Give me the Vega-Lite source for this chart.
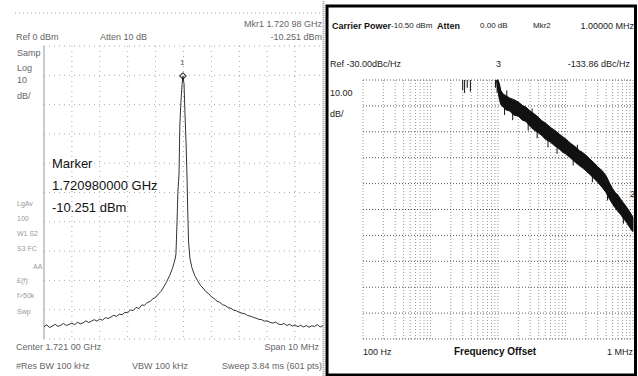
{
 "$schema": "https://vega.github.io/schema/vega-lite/v6.json",
 "padding": 0,
 "spacing": 0,
 "bounds": "flush",
 "background": "white",
 "config": {"view": {"stroke": null}, "text": {"font": "Liberation Sans, Arial, sans-serif"}},
 "hconcat": [
  {
   "width": 325, "height": 376,
   "encoding": {
    "x": {"field": "f", "type": "quantitative", "scale": {"domain": [1714.423, 1726.072], "nice": false, "zero": false}, "axis": null},
    "y": {"field": "v", "type": "quantitative", "scale": {"domain": [-112.97, 15.36], "nice": false, "zero": false}, "axis": null}
   },
   "layer": [
    {
     "data": {"values": [{"f":1717,"v":0,"v2":-100},{"f":1718,"v":0,"v2":-100},{"f":1719,"v":0,"v2":-100},{"f":1720,"v":0,"v2":-100},{"f":1721,"v":0,"v2":-100},{"f":1722,"v":0,"v2":-100},{"f":1723,"v":0,"v2":-100},{"f":1724,"v":0,"v2":-100},{"f":1725,"v":0,"v2":-100}]},
     "mark": {"type": "rule", "stroke": "#aaa", "strokeDash": [1, 4], "strokeWidth": 1},
     "encoding": {"y2": {"field": "v2"}}
    },
    {
     "data": {"values": [{"f":1716,"f2":1726,"v":0},{"f":1716,"f2":1726,"v":-10},{"f":1716,"f2":1726,"v":-20},{"f":1716,"f2":1726,"v":-30},{"f":1716,"f2":1726,"v":-40},{"f":1716,"f2":1726,"v":-50},{"f":1716,"f2":1726,"v":-60},{"f":1716,"f2":1726,"v":-70},{"f":1716,"f2":1726,"v":-80},{"f":1716,"f2":1726,"v":-90},{"f":1716,"f2":1726,"v":-100}]},
     "mark": {"type": "rule", "stroke": "#aaa", "strokeDash": [1, 4], "strokeWidth": 1},
     "encoding": {"x2": {"field": "f2"}}
    },
    {
     "data": {"values": [{"f":1714.96,"f2":1725.96,"v":11.26}]},
     "mark": {"type": "rule", "stroke": "#aaa", "strokeDash": [1, 3], "strokeWidth": 1},
     "encoding": {"x2": {"field": "f2"}}
    },
    {
     "data": {"values": [{"f":1716,"v":0,"v2":-100}]},
     "mark": {"type": "rule", "stroke": "#999", "strokeWidth": 1},
     "encoding": {"y2": {"field": "v2"}}
    },
    {
     "data": {"values": [{"f":1726.018,"v":15.3,"v2":-112.9}]},
     "mark": {"type": "rule", "stroke": "#999", "strokeDash": [1, 1], "strokeWidth": 2},
     "encoding": {"y2": {"field": "v2"}}
    },
    {
     "data": {"values": [
      {"f":1716.0,"v":-95.8},{"f":1716.1,"v":-95.2},{"f":1716.2,"v":-96.1},{"f":1716.3,"v":-95.6},{"f":1716.4,"v":-95.0},{"f":1716.5,"v":-95.7},{"f":1716.6,"v":-95.3},{"f":1716.7,"v":-94.7},{"f":1716.8,"v":-95.4},{"f":1716.9,"v":-95.0},
      {"f":1717.0,"v":-94.6},{"f":1717.1,"v":-95.1},{"f":1717.2,"v":-94.3},{"f":1717.3,"v":-94.8},{"f":1717.4,"v":-94.5},{"f":1717.5,"v":-93.8},{"f":1717.6,"v":-94.4},{"f":1717.7,"v":-93.9},{"f":1717.8,"v":-93.4},{"f":1717.9,"v":-93.9},
      {"f":1718.0,"v":-93.2},{"f":1718.1,"v":-93.6},{"f":1718.2,"v":-92.7},{"f":1718.3,"v":-93.0},{"f":1718.4,"v":-92.5},{"f":1718.5,"v":-91.9},{"f":1718.6,"v":-92.3},{"f":1718.7,"v":-91.5},{"f":1718.8,"v":-91.7},{"f":1718.9,"v":-90.9},
      {"f":1719.0,"v":-91.0},{"f":1719.1,"v":-90.1},{"f":1719.2,"v":-90.3},{"f":1719.3,"v":-89.2},{"f":1719.4,"v":-89.6},{"f":1719.5,"v":-88.4},{"f":1719.6,"v":-88.5},{"f":1719.7,"v":-87.6},{"f":1719.8,"v":-87.2},{"f":1719.9,"v":-86.3},
      {"f":1720.0,"v":-85.8},{"f":1720.1,"v":-84.6},{"f":1720.2,"v":-83.7},{"f":1720.3,"v":-82.1},{"f":1720.4,"v":-80.4},{"f":1720.5,"v":-78.4},{"f":1720.55,"v":-77.2},{"f":1720.6,"v":-76.0},{"f":1720.65,"v":-74.4},{"f":1720.7,"v":-72.7},
      {"f":1720.73,"v":-71.0},{"f":1720.77,"v":-59.7},{"f":1720.8,"v":-49.5},{"f":1720.84,"v":-43.7},{"f":1720.87,"v":-26.6},{"f":1720.91,"v":-18.8},{"f":1720.95,"v":-13.0},{"f":1720.98,"v":-10.25},
      {"f":1721.02,"v":-13.0},{"f":1721.05,"v":-22.2},{"f":1721.09,"v":-32.4},{"f":1721.13,"v":-46.1},{"f":1721.15,"v":-55.3},{"f":1721.18,"v":-66.6},{"f":1721.23,"v":-72.4},
      {"f":1721.3,"v":-75.6},{"f":1721.4,"v":-78.3},{"f":1721.5,"v":-80.0},{"f":1721.6,"v":-81.6},{"f":1721.7,"v":-82.6},{"f":1721.8,"v":-83.8},{"f":1721.9,"v":-84.5},{"f":1722.0,"v":-85.6},
      {"f":1722.1,"v":-86.2},{"f":1722.2,"v":-87.1},{"f":1722.3,"v":-87.5},{"f":1722.4,"v":-88.3},{"f":1722.5,"v":-88.6},{"f":1722.6,"v":-89.3},{"f":1722.7,"v":-89.5},{"f":1722.8,"v":-90.2},{"f":1722.9,"v":-90.4},
      {"f":1723.0,"v":-90.9},{"f":1723.1,"v":-91.2},{"f":1723.2,"v":-91.4},{"f":1723.3,"v":-92.0},{"f":1723.4,"v":-92.2},{"f":1723.5,"v":-92.6},{"f":1723.6,"v":-92.9},{"f":1723.7,"v":-93.3},{"f":1723.8,"v":-93.4},{"f":1723.9,"v":-93.9},
      {"f":1724.0,"v":-93.8},{"f":1724.1,"v":-94.3},{"f":1724.2,"v":-94.6},{"f":1724.3,"v":-94.2},{"f":1724.4,"v":-94.9},{"f":1724.5,"v":-95.1},{"f":1724.6,"v":-94.7},{"f":1724.7,"v":-95.4},{"f":1724.8,"v":-95.0},{"f":1724.9,"v":-95.6},
      {"f":1725.0,"v":-95.2},{"f":1725.1,"v":-95.8},{"f":1725.2,"v":-95.3},{"f":1725.3,"v":-95.9},{"f":1725.4,"v":-95.4},{"f":1725.5,"v":-96.0},{"f":1725.6,"v":-95.5},{"f":1725.7,"v":-95.7},{"f":1725.8,"v":-95.1},{"f":1725.9,"v":-95.9},{"f":1726.0,"v":-95.4}
     ]},
     "mark": {"type": "line", "stroke": "#333", "strokeWidth": 1},
     "encoding": {}
    },
    {
     "data": {"values": [{"f":1720.98,"v":-10.25}]},
     "mark": {"type": "point", "shape": "diamond", "filled": false, "stroke": "black", "strokeWidth": 1.2, "size": 40},
     "encoding": {}
    },
    {
     "data": {"values": [{"f":1720.95,"v":-5.8,"t":"1"}]},
     "mark": {"type": "text", "align": "center", "baseline": "middle", "fontSize": 8, "fill": "#555"},
     "encoding": {"text": {"field": "t"}}
    },
    {
     "data": {"values": [
      {"f":1715.0,"v":3.07,"t":"Ref 0 dBm"},
      {"f":1718.007,"v":3.07,"t":"Atten 10 dB"},
      {"f":1715.03,"v":-2.39,"t":"Samp"},
      {"f":1715.03,"v":-7.51,"t":"Log"},
      {"f":1715.03,"v":-11.6,"t":"10"},
      {"f":1715.03,"v":-17.06,"t":"dB/"},
      {"f":1715.0,"v":-102.7,"t":"Center 1.721 00 GHz"},
      {"f":1715.0,"v":-109.2,"t":"#Res BW 100 kHz"},
      {"f":1719.154,"v":-109.2,"t":"VBW 100 kHz"}
     ]},
     "mark": {"type": "text", "align": "left", "baseline": "middle", "fontSize": 9, "fill": "#666"},
     "encoding": {"text": {"field": "t"}}
    },
    {
     "data": {"values": [
      {"f":1725.964,"v":7.51,"t":"Mkr1  1.720 98 GHz"},
      {"f":1725.964,"v":3.07,"t":"-10.251 dBm"},
      {"f":1725.857,"v":-102.7,"t":"Span 10 MHz"},
      {"f":1725.964,"v":-109.2,"t":"Sweep 3.84 ms (601 pts)"}
     ]},
     "mark": {"type": "text", "align": "right", "baseline": "middle", "fontSize": 9, "fill": "#666"},
     "encoding": {"text": {"field": "t"}}
    },
    {
     "data": {"values": [
      {"f":1715.032,"v":-53.92,"t":"LgAv"},
      {"f":1715.032,"v":-59.04,"t":"100"},
      {"f":1715.032,"v":-64.16,"t":"W1  S2"},
      {"f":1715.032,"v":-69.28,"t":"S3  FC"},
      {"f":1715.606,"v":-75.43,"t":"AA"},
      {"f":1715.032,"v":-80.2,"t":"£(f):"},
      {"f":1715.032,"v":-85.32,"t":"f>50k"},
      {"f":1715.032,"v":-90.78,"t":"Swp"}
     ]},
     "mark": {"type": "text", "align": "left", "baseline": "middle", "fontSize": 7, "fill": "#999"},
     "encoding": {"text": {"field": "t"}}
    },
    {
     "data": {"values": [
      {"f":1716.287,"v":-40.27,"t":"Marker"},
      {"f":1716.287,"v":-47.78,"t":"1.720980000 GHz"},
      {"f":1716.287,"v":-55.29,"t":"-10.251 dBm"}
     ]},
     "mark": {"type": "text", "align": "left", "baseline": "middle", "fontSize": 13, "fill": "#111"},
     "encoding": {"text": {"field": "t"}}
    }
   ]
  },
  {
   "width": 313, "height": 376,
   "encoding": {
    "x": {"field": "f", "type": "quantitative", "scale": {"type": "log", "domain": [27.35, 1186000], "nice": false}, "axis": null},
    "y": {"field": "v", "type": "quantitative", "scale": {"domain": [-144.67, 0.502], "nice": false, "zero": false}, "axis": null}
   },
   "layer": [
    {
     "data": {"values": [
      {"f":100,"v":-30,"v2":-130},{"f":200,"v":-30,"v2":-130},{"f":300,"v":-30,"v2":-130},{"f":400,"v":-30,"v2":-130},{"f":500,"v":-30,"v2":-130},{"f":600,"v":-30,"v2":-130},{"f":700,"v":-30,"v2":-130},{"f":800,"v":-30,"v2":-130},{"f":900,"v":-30,"v2":-130},
      {"f":1000,"v":-30,"v2":-130},{"f":2000,"v":-30,"v2":-130},{"f":3000,"v":-30,"v2":-130},{"f":4000,"v":-30,"v2":-130},{"f":5000,"v":-30,"v2":-130},{"f":6000,"v":-30,"v2":-130},{"f":7000,"v":-30,"v2":-130},{"f":8000,"v":-30,"v2":-130},{"f":9000,"v":-30,"v2":-130},
      {"f":10000,"v":-30,"v2":-130},{"f":20000,"v":-30,"v2":-130},{"f":30000,"v":-30,"v2":-130},{"f":40000,"v":-30,"v2":-130},{"f":50000,"v":-30,"v2":-130},{"f":60000,"v":-30,"v2":-130},{"f":70000,"v":-30,"v2":-130},{"f":80000,"v":-30,"v2":-130},{"f":90000,"v":-30,"v2":-130},
      {"f":100000,"v":-30,"v2":-130},{"f":200000,"v":-30,"v2":-130},{"f":300000,"v":-30,"v2":-130},{"f":400000,"v":-30,"v2":-130},{"f":500000,"v":-30,"v2":-130},{"f":600000,"v":-30,"v2":-130},{"f":700000,"v":-30,"v2":-130},{"f":800000,"v":-30,"v2":-130},{"f":900000,"v":-30,"v2":-130},
      {"f":1000000,"v":-30,"v2":-130}
     ]},
     "mark": {"type": "rule", "stroke": "#999", "strokeDash": [1, 2], "strokeWidth": 1},
     "encoding": {"y2": {"field": "v2"}}
    },
    {
     "data": {"values": [
      {"f":100,"f2":1000000,"v":-30},{"f":100,"f2":1000000,"v":-40},{"f":100,"f2":1000000,"v":-50},{"f":100,"f2":1000000,"v":-60},{"f":100,"f2":1000000,"v":-70},{"f":100,"f2":1000000,"v":-80},
      {"f":100,"f2":1000000,"v":-90},{"f":100,"f2":1000000,"v":-100},{"f":100,"f2":1000000,"v":-110},{"f":100,"f2":1000000,"v":-120},{"f":100,"f2":1000000,"v":-130}
     ]},
     "mark": {"type": "rule", "stroke": "#555", "strokeDash": [1, 2], "strokeWidth": 1},
     "encoding": {"x2": {"field": "f2"}}
    },
    {
     "data": {"values": [
      {"f":9600,"v":-30.0,"v2":-30.8},{"f":10000,"v":-30.0,"v2":-34.5},{"f":10500,"v":-31.5,"v2":-37.5},{"f":11000,"v":-34.0,"v2":-39.5},{"f":12000,"v":-35.5,"v2":-40.5},
      {"f":13000,"v":-36.0,"v2":-41.5},{"f":15000,"v":-37.0,"v2":-42.0},{"f":17000,"v":-37.5,"v2":-43.5},{"f":20000,"v":-38.5,"v2":-44.0},{"f":23000,"v":-39.8,"v2":-45.5},
      {"f":26000,"v":-40.5,"v2":-46.0},{"f":30000,"v":-42.0,"v2":-48.0},{"f":35000,"v":-43.2,"v2":-49.5},{"f":40000,"v":-44.5,"v2":-50.5},{"f":45000,"v":-45.8,"v2":-51.5},
      {"f":50000,"v":-46.5,"v2":-52.8},{"f":60000,"v":-48.3,"v2":-54.0},{"f":70000,"v":-49.5,"v2":-55.5},{"f":80000,"v":-50.8,"v2":-56.5},{"f":90000,"v":-51.8,"v2":-57.8},
      {"f":100000,"v":-52.7,"v2":-58.5},{"f":120000,"v":-54.5,"v2":-60.2},{"f":140000,"v":-55.8,"v2":-61.8},{"f":160000,"v":-57.2,"v2":-63.0},{"f":180000,"v":-58.0,"v2":-64.0},
      {"f":200000,"v":-59.0,"v2":-65.0},{"f":230000,"v":-60.5,"v2":-66.5},{"f":260000,"v":-61.8,"v2":-67.8},{"f":300000,"v":-63.5,"v2":-69.5},{"f":350000,"v":-65.0,"v2":-71.5},
      {"f":400000,"v":-67.0,"v2":-73.5},{"f":450000,"v":-69.8,"v2":-76.0},{"f":500000,"v":-72.0,"v2":-78.0},{"f":550000,"v":-73.5,"v2":-79.5},{"f":600000,"v":-74.5,"v2":-80.8},
      {"f":650000,"v":-75.8,"v2":-81.8},{"f":700000,"v":-77.0,"v2":-83.0},{"f":750000,"v":-78.0,"v2":-84.0},{"f":800000,"v":-79.0,"v2":-85.0},{"f":850000,"v":-80.0,"v2":-86.0},
      {"f":900000,"v":-81.0,"v2":-87.0},{"f":950000,"v":-82.0,"v2":-88.0},{"f":1000000,"v":-83.0,"v2":-88.5}
     ]},
     "mark": {"type": "area", "fill": "#111", "stroke": "#111", "strokeWidth": 1},
     "encoding": {"y2": {"field": "v2"}}
    },
    {
     "data": {"values": [
      {"f":3000,"v":-30,"v2":-34},{"f":3200,"v":-30,"v2":-35},{"f":3500,"v":-30,"v2":-33},{"f":3900,"v":-30,"v2":-34.5},{"f":9200,"v":-30,"v2":-33},{"f":9700,"v":-30,"v2":-35},
      {"f":12500,"v":-39,"v2":-43.5},{"f":16500,"v":-41,"v2":-45.5},{"f":28000,"v":-45,"v2":-49.5},{"f":38000,"v":-48,"v2":-52.5},{"f":55000,"v":-51,"v2":-56},
      {"f":75000,"v":-54,"v2":-58.5},{"f":130000,"v":-58,"v2":-63},{"f":250000,"v":-65,"v2":-69.5},{"f":420000,"v":-72,"v2":-76.5},{"f":720000,"v":-81,"v2":-85.5},
      {"f":13500,"v":-34,"v2":-37},{"f":32000,"v":-41,"v2":-44},{"f":150000,"v":-55,"v2":-58}
     ]},
     "mark": {"type": "rule", "stroke": "#111", "strokeWidth": 1},
     "encoding": {"y2": {"field": "v2"}}
    },
    {
     "data": {"values": [{"f":29.29,"f2":1089000,"v":-1.43,"v2":-143.9}]},
     "mark": {"type": "rect", "fill": null, "fillOpacity": 0, "stroke": "black", "strokeWidth": 3},
     "encoding": {"x2": {"field": "f2"}, "y2": {"field": "v2"}}
    },
    {
     "data": {"values": [
      {"f":34.7,"v":-9.15,"t":"Carrier Power"},
      {"f":1248,"v":-9.15,"t":"Atten"}
     ]},
     "mark": {"type": "text", "align": "left", "baseline": "middle", "fontSize": 9, "fontWeight": "bold", "fill": "#111"},
     "encoding": {"text": {"field": "t"}}
    },
    {
     "data": {"values": [
      {"f":9027,"v":-135.02,"t":"Frequency Offset"}
     ]},
     "mark": {"type": "text", "align": "center", "baseline": "middle", "fontSize": 10, "fontWeight": "bold", "fill": "#111"},
     "encoding": {"text": {"field": "t"}}
    },
    {
     "data": {"values": [
      {"f":260,"v":-9.15,"t":"-10.50 dBm"},
      {"f":5412,"v":-9.15,"t":"0.00 dB"},
      {"f":32990,"v":-9.15,"t":"Mkr2"}
     ]},
     "mark": {"type": "text", "align": "left", "baseline": "middle", "fontSize": 8, "fill": "#222"},
     "encoding": {"text": {"field": "t"}}
    },
    {
     "data": {"values": [
      {"f":32.44,"v":-23.82,"t":"Ref -30.00dBc/Hz"},
      {"f":32.44,"v":-35.02,"t":"10.00"},
      {"f":32.44,"v":-43.13,"t":"dB/"},
      {"f":100,"v":-135.02,"t":"100 Hz"},
      {"f":9342,"v":-23.82,"t":"3"},
      {"f":902700,"v":-74.02,"t":"2"}
     ]},
     "mark": {"type": "text", "align": "left", "baseline": "middle", "fontSize": 9, "fill": "#222"},
     "encoding": {"text": {"field": "t"}}
    },
    {
     "data": {"values": [
      {"f":1034700,"v":-9.15,"t":"1.00000 MHz"},
      {"f":900000,"v":-23.82,"t":"-133.86 dBc/Hz"},
      {"f":1000000,"v":-135.02,"t":"1 MHz"}
     ]},
     "mark": {"type": "text", "align": "right", "baseline": "middle", "fontSize": 9, "fill": "#222"},
     "encoding": {"text": {"field": "t"}}
    }
   ]
  }
 ]
}
